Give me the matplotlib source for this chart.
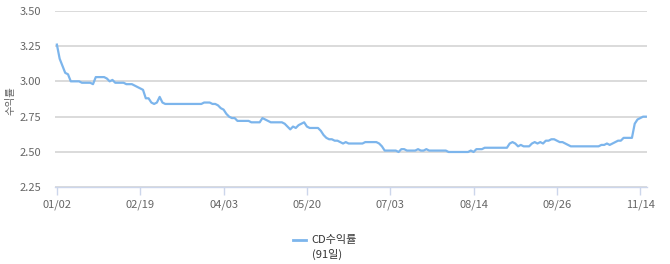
import matplotlib
matplotlib.use("Agg")
import matplotlib.pyplot as plt

plt.rcParams['font.family'] = ['Noto Sans CJK KR', 'DejaVu Sans']

# CD 91-day yield, one value per trading day
cd_yield = (
    [3.26, 3.16, 3.11, 3.06, 3.05, 3.00, 3.00, 3.00, 3.00, 2.99,
     2.99, 2.99, 2.99, 2.98, 3.03, 3.03, 3.03, 3.03, 3.02, 3.00,
     3.01, 2.99, 2.99, 2.99, 2.99, 2.98, 2.98, 2.98, 2.97, 2.96,
     2.95, 2.94, 2.88, 2.88, 2.85, 2.84, 2.85, 2.89, 2.85, 2.84]
    + [2.84] * 13
    + [2.85, 2.85, 2.85, 2.84, 2.84, 2.83, 2.81, 2.80, 2.77, 2.75,
       2.74, 2.74]
    + [2.72] * 5 + [2.71] * 4
    + [2.74, 2.73, 2.72]
    + [2.71] * 5
    + [2.70, 2.68, 2.66, 2.68, 2.67, 2.69, 2.70, 2.71, 2.68]
    + [2.67] * 4
    + [2.65, 2.62, 2.60, 2.59, 2.59, 2.58, 2.58, 2.57, 2.56, 2.57]
    + [2.56] * 6 + [2.57] * 5
    + [2.56, 2.54]
    + [2.51] * 5
    + [2.50, 2.52, 2.52, 2.51, 2.51, 2.51, 2.51, 2.52, 2.51, 2.51, 2.52]
    + [2.51] * 7 + [2.50] * 8
    + [2.51, 2.50, 2.52, 2.52, 2.52]
    + [2.53] * 9
    + [2.56, 2.57, 2.56, 2.54, 2.55, 2.54, 2.54, 2.54, 2.56, 2.57,
       2.56, 2.57, 2.56, 2.58, 2.58, 2.59, 2.59, 2.58, 2.57, 2.57,
       2.56, 2.55]
    + [2.54] * 11
    + [2.55, 2.55, 2.56, 2.55, 2.56, 2.57, 2.58, 2.58, 2.60, 2.60,
       2.60, 2.60, 2.70, 2.73, 2.74, 2.75, 2.75]
)

date_labels = ["01/02", "02/19", "04/03", "05/20", "07/03", "08/14", "09/26", "11/14"]
y_ticks = [2.25, 2.50, 2.75, 3.00, 3.25, 3.50]

fig = plt.figure(figsize=(6.7, 2.64), dpi=100)
ax = fig.add_axes([0.082, 0.2905, 0.884, 0.669])

# gridlines first so the line sits on top
for yv in y_ticks:
    ax.axhline(yv, color="#d8d8d8", lw=1.3, zorder=1)

ax.plot(range(len(cd_yield)), cd_yield, color="#7cb5ec", lw=1.6,
        solid_joinstyle="round", zorder=3)

ax.set_xlim(-0.7, 212.5)
ax.set_ylim(2.25, 3.50)
ax.set_yticks(y_ticks)
ax.set_yticklabels([f"{v:.2f}" for v in y_ticks])
ax.set_xticks(range(0, 30 * len(date_labels), 30))
ax.set_xticklabels(date_labels)

for side in ["top", "right", "left"]:
    ax.spines[side].set_visible(False)
ax.spines["bottom"].set_color("#ccd6eb")
ax.spines["bottom"].set_linewidth(1.0)
ax.spines["bottom"].set_zorder(2)

ax.tick_params(axis="x", colors="#ccd6eb", length=6, width=1, pad=3,
               labelcolor="#666666", labelsize=8)
ax.tick_params(axis="y", length=0, pad=10, labelcolor="#666666", labelsize=8)

# y axis title sits at the far left edge
fig.text(0.008, 0.62, "수익률", color="#666666", fontsize=7.5,
         rotation=90, ha="left", va="center")

# legend drawn below the axes, two-line label
fig.lines.append(plt.Line2D([0.437, 0.456], [0.091, 0.091], color="#7cb5ec",
                            lw=2, transform=fig.transFigure))
fig.text(0.465, 0.091, "CD수익률", fontsize=8, color="#333333",
         ha="left", va="center")
fig.text(0.465, 0.036, "(91일)", fontsize=8, color="#333333",
         ha="left", va="center")

fig.savefig("out.png", dpi=100)
